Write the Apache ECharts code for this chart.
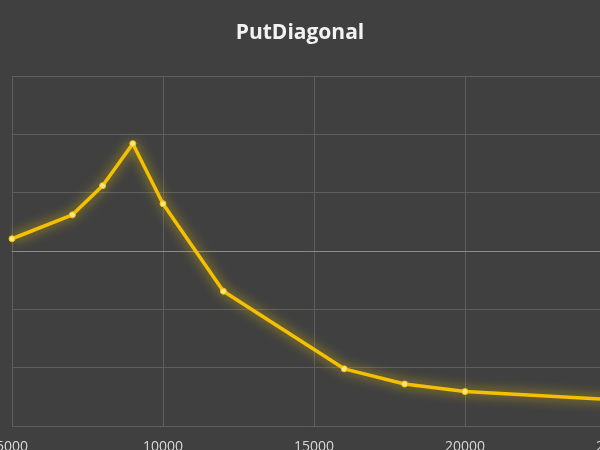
<!DOCTYPE html>
<html><head><meta charset="utf-8">
<script src="https://cdn.jsdelivr.net/npm/echarts@6/dist/echarts.min.js"></script>
<style>html,body{margin:0;padding:0;background:#404040}#c{width:600px;height:450px}</style>
</head><body><div id="c"></div>
<script>
const strikes = [5000, 7000, 8000, 9000, 10000, 12000, 16000, 18000, 20000, 25000];
const values = [0.21, 0.62, 1.12, 1.84, 0.81, -0.69, -2.02, -2.28, -2.41, -2.55];
const xTicks = [5000, 10000, 15000, 20000, 25000];
const chart = echarts.init(document.getElementById('c'));
chart.setOption({
  backgroundColor: '#404040',
  title: { text: 'PutDiagonal', left: 'center', top: 18,
    textStyle: { color: '#f2f2f2', fontSize: 21, fontWeight: 'bold', fontFamily: 'Open Sans' } },
  grid: { left: 12, top: 76, width: 604, height: 350, containLabel: false, outerBoundsMode: 'none' },
  xAxis: { type: 'value', min: 5000, max: 25000, interval: 5000,
    axisLine: { show: true, onZero: true, lineStyle: { color: '#8a8a8a' } },
    axisTick: { show: false },
    axisLabel: { color: '#d9d9d9', fontSize: 14, margin: 14, fontFamily: 'Open Sans',
      formatter: v => xTicks.includes(v) ? String(v) : '' },
    splitLine: { show: true, lineStyle: { color: '#5e5e5e' } } },
  yAxis: { type: 'value', min: -3, max: 3, interval: 1,
    axisLabel: { show: false }, axisLine: { show: false }, axisTick: { show: false },
    splitLine: { lineStyle: { color: '#5e5e5e' } } },
  series: [{ type: 'line', data: strikes.map((s, i) => [s, values[i]]),
    symbol: 'circle', symbolSize: 6,
    itemStyle: { color: '#fde58a', borderColor: '#f5c000', borderWidth: 1 },
    lineStyle: { color: '#f5c000', width: 3.5, shadowColor: 'rgba(255,215,0,0.8)', shadowBlur: 12 } }]
});
</script></body></html>
